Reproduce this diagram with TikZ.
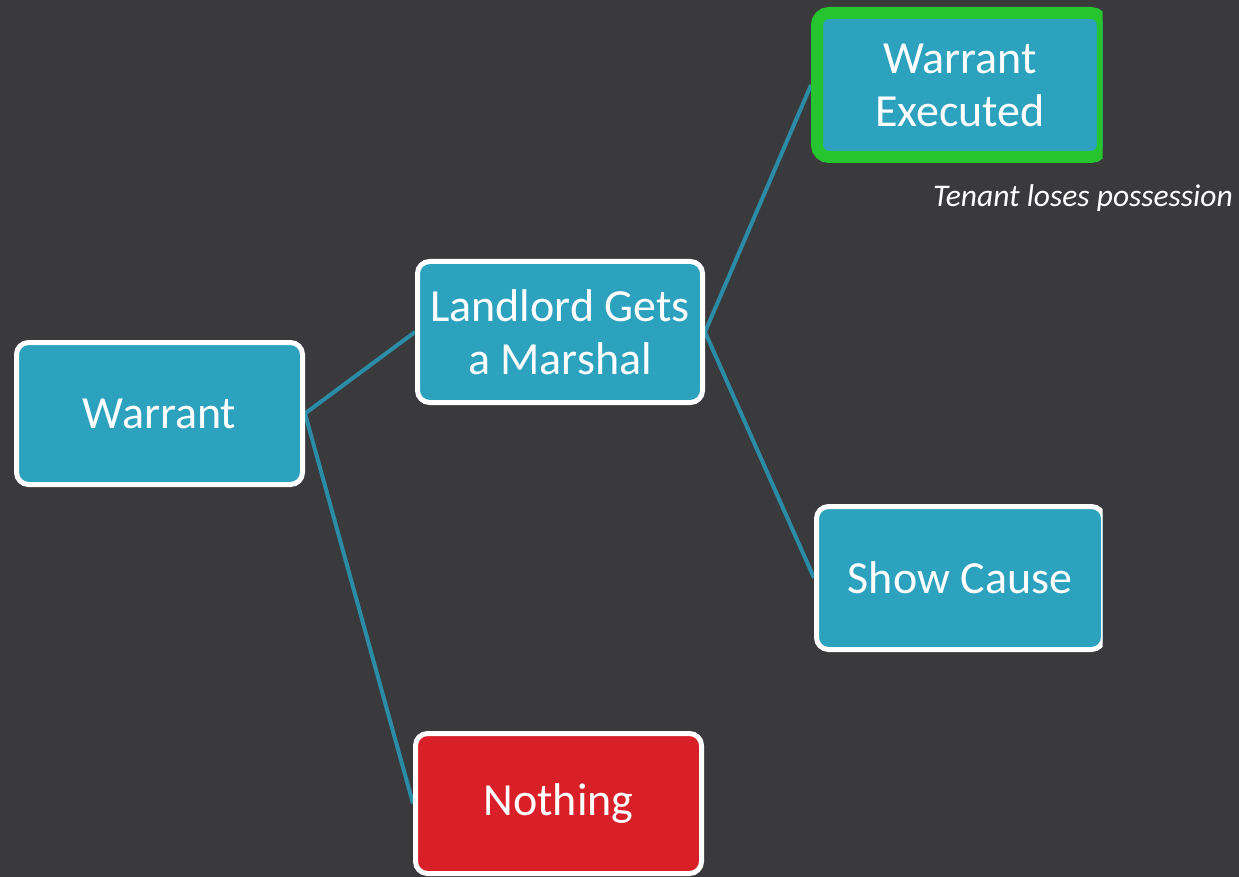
\documentclass[tikz,border=0pt]{standalone}
\usepackage{fontspec}
\setmainfont{Carlito}
\pgfdeclarelayer{bg}
\pgfsetlayers{bg,main}
\definecolor{canvas}{HTML}{3A3A3C}
\definecolor{boxfill}{HTML}{2CA2BF}
\definecolor{linkcol}{HTML}{2A8CA6}
\definecolor{stopred}{HTML}{D92029}
\definecolor{goodgreen}{HTML}{26C42E}
\tikzset{
  stagebox/.style={draw=white, line width=5pt, fill=boxfill, rounded corners=12pt,
    minimum width=286pt, minimum height=142pt, inner sep=0pt, align=center,
    text=white, font=\fontsize{46}{53}\selectfont},
  link/.style={draw=linkcol, line width=4pt},
  note/.style={text=white, font=\fontsize{31.5}{36}\selectfont\itshape, inner sep=0pt}
}
\begin{document}
\begin{tikzpicture}[x=1pt,y=-1pt]
\useasboundingbox (0,0) rectangle (1239,877);
\begin{pgfonlayer}{bg}
  \fill[canvas] (0,0) rectangle (1239,877);
\end{pgfonlayer}

\node[stagebox] (warrant) at (159.5,413.5) {Warrant};
\node[stagebox, minimum width=285pt, minimum height=141pt] (marshal) at (560,332) {Landlord Gets\\a Marshal};
\node[stagebox, fill=stopred, minimum height=140pt] (nothing) at (558.5,803.5) {Nothing};

% the right-hand column is cut off at its outer edge
\begin{scope}
  \clip (0,0) rectangle (1102.5,877);
  \node[stagebox, draw=goodgreen, line width=12pt, minimum width=286pt, minimum height=144pt] (executed) at (960,85) {Warrant\\Executed};
  \node[stagebox, minimum width=287pt, minimum height=143pt] (cause) at (960,578) {Show Cause};
\end{scope}

\node[note] (loses) at (1083,198) {Tenant loses possession};

\begin{pgfonlayer}{bg}
  \draw[link] (warrant.east) -- (marshal.west);
  \draw[link] (warrant.east) -- (nothing.west);
  \draw[link] (marshal.east) -- (executed.west);
  \draw[link] (marshal.east) -- (cause.west);
\end{pgfonlayer}
\end{tikzpicture}
\end{document}
